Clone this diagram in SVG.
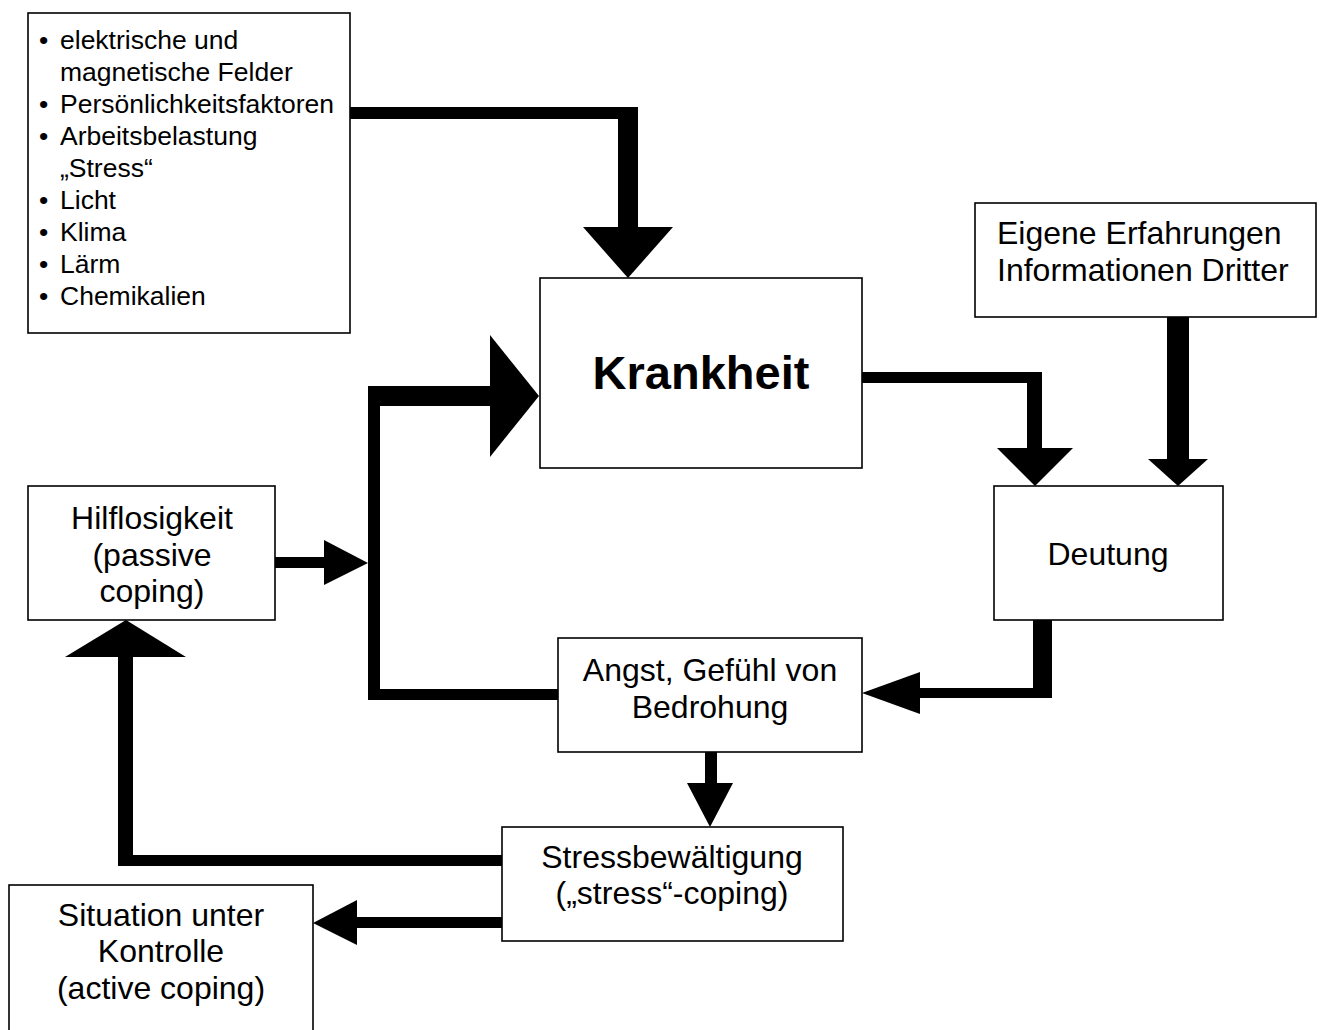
<svg xmlns="http://www.w3.org/2000/svg" width="1324" height="1030" viewBox="0 0 1324 1030">
<style>
.box{fill:#fff;stroke:#000;stroke-width:1.6}
.t{font-family:"Liberation Sans",Arial,sans-serif;font-size:32px;fill:#000;text-anchor:middle}
.l{font-family:"Liberation Sans",Arial,sans-serif;font-size:26.5px;fill:#000}
.k{font-family:"Liberation Sans",Arial,sans-serif;font-size:47px;font-weight:bold;fill:#000;text-anchor:middle}
.c{fill:#000;stroke:none}
</style>
<rect width="1324" height="1030" fill="#fff"/>
<g id="connectors">
  <polygon class="c" points="350,107 638,107 638,228 618,228 618,119 350,119"/>
  <polygon class="c" points="583,227 673,227 628,278"/>
  <polygon class="c" points="558,689 380,689 380,406 490,406 490,386 368,386 368,700 558,700"/>
  <polygon class="c" points="490,335 490,457 539,396"/>
  <rect class="c" x="275" y="557" width="50" height="11"/>
  <polygon class="c" points="324,540 324,585 368,563"/>
  <polygon class="c" points="862,372 1042,372 1042,449 1027,449 1027,383 862,383"/>
  <polygon class="c" points="997,448 1073,448 1035,486"/>
  <rect class="c" x="1167" y="317" width="22" height="143"/>
  <polygon class="c" points="1148,459 1208,459 1178,486"/>
  <polygon class="c" points="1033,620 1052,620 1052,698 919,698 919,688 1033,688"/>
  <polygon class="c" points="920,672 920,714 862,693"/>
  <rect class="c" x="705" y="752" width="12" height="32"/>
  <polygon class="c" points="687,783 733,783 710,827"/>
  <polygon class="c" points="502,855 133,855 133,656 118,656 118,866 502,866"/>
  <polygon class="c" points="65,657 186,657 126,620"/>
  <rect class="c" x="356" y="917" width="146" height="11"/>
  <polygon class="c" points="357,900 357,945 313,923"/>
</g>
<g id="factors">
  <rect class="box" x="28" y="13" width="322" height="320"/>
  <text class="l"><tspan x="39" y="49">•</tspan><tspan x="60" y="49">elektrische und</tspan></text>
  <text class="l" x="60" y="81">magnetische Felder</text>
  <text class="l"><tspan x="39" y="113">•</tspan><tspan x="60" y="113">Persönlichkeitsfaktoren</tspan></text>
  <text class="l"><tspan x="39" y="145">•</tspan><tspan x="60" y="145">Arbeitsbelastung</tspan></text>
  <text class="l" x="60" y="177">„Stress“</text>
  <text class="l"><tspan x="39" y="209">•</tspan><tspan x="60" y="209">Licht</tspan></text>
  <text class="l"><tspan x="39" y="241">•</tspan><tspan x="60" y="241">Klima</tspan></text>
  <text class="l"><tspan x="39" y="273">•</tspan><tspan x="60" y="273">Lärm</tspan></text>
  <text class="l"><tspan x="39" y="305">•</tspan><tspan x="60" y="305">Chemikalien</tspan></text>
</g>
<g id="krankheit">
  <rect class="box" x="540" y="278" width="322" height="190"/>
  <text class="k" x="701" y="389">Krankheit</text>
</g>
<g id="erfahrungen">
  <rect class="box" x="975" y="203" width="341" height="114"/>
  <text class="t" style="text-anchor:start" x="997" y="244">Eigene Erfahrungen</text>
  <text class="t" style="text-anchor:start" x="997" y="281">Informationen Dritter</text>
</g>
<g id="deutung">
  <rect class="box" x="994" y="486" width="229" height="134"/>
  <text class="t" x="1108" y="565">Deutung</text>
</g>
<g id="hilflosigkeit">
  <rect class="box" x="28" y="486" width="247" height="134"/>
  <text class="t" x="152" y="529">Hilflosigkeit</text>
  <text class="t" x="152" y="566">(passive</text>
  <text class="t" x="152" y="602">coping)</text>
</g>
<g id="angst">
  <rect class="box" x="558" y="638" width="304" height="114"/>
  <text class="t" x="710" y="681">Angst, Gefühl von</text>
  <text class="t" x="710" y="718">Bedrohung</text>
</g>
<g id="stress">
  <rect class="box" x="502" y="827" width="341" height="114"/>
  <text class="t" x="672" y="868">Stressbewältigung</text>
  <text class="t" x="672" y="904">(„stress“-coping)</text>
</g>
<g id="situation">
  <rect class="box" x="9" y="885" width="304" height="160"/>
  <text class="t" x="161" y="926">Situation unter</text>
  <text class="t" x="161" y="962">Kontrolle</text>
  <text class="t" x="161" y="999">(active coping)</text>
</g>
</svg>
